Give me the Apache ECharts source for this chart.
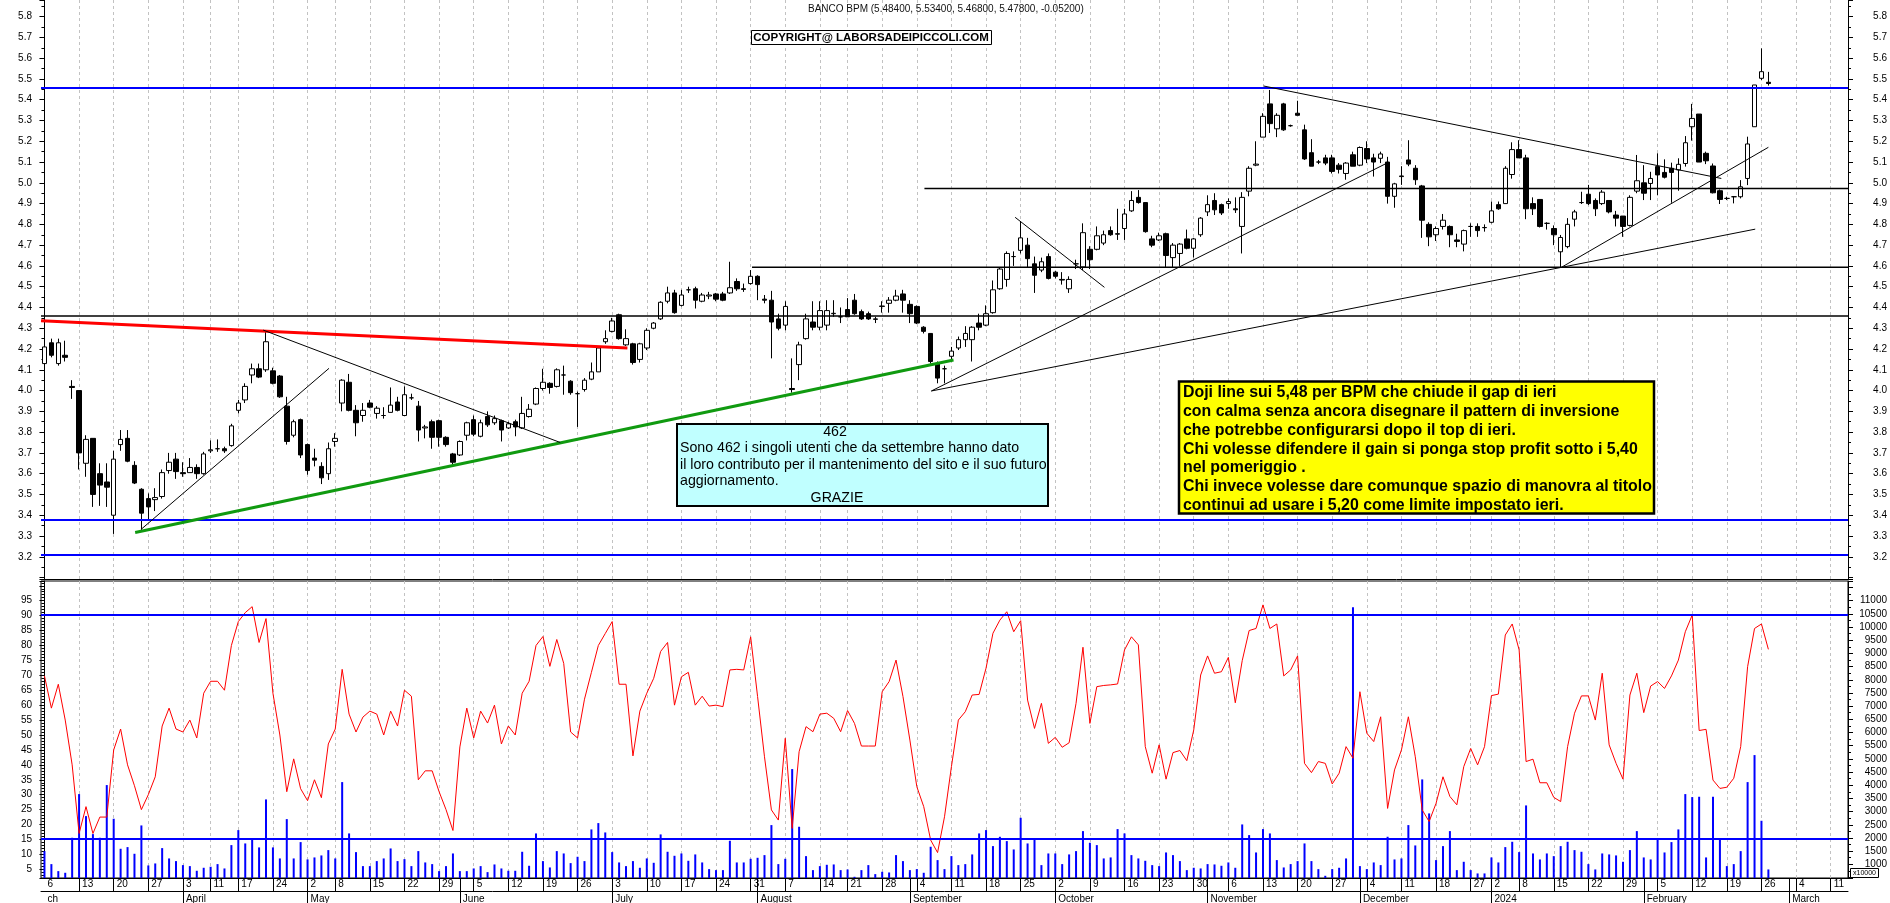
<!DOCTYPE html>
<html><head><meta charset="utf-8">
<script src="https://cdn.jsdelivr.net/npm/echarts@6/dist/echarts.min.js"></script>
<style>html,body{margin:0;padding:0;background:#fff}#c{width:1890px;height:903px}</style>
</head><body><div id="c"></div>
<script>
const FONT = '"Liberation Sans", Arial, sans-serif';

// ---- calendar ----
const TRADE_START = '2023-03-06';
const HOLIDAYS = ['2023-04-07','2023-04-10','2023-05-01','2023-08-15','2023-12-25','2023-12-26','2024-01-01'];
const SLOT_COUNT = 261; // trading days shown incl. empty future days
const MONTH_NAMES = ['2024','February','March','April','May','June','July','August','September','October','November','December'];
const FIRST_MONTH_LABEL = 'ch';

// ---- price data (OHLC) ----
const OPEN = [
4.13,4.23,4.13,4.17,4.02,4.00,3.65,3.77,3.60,3.56,
3.40,3.74,3.77,3.64,3.525,3.48,3.475,3.49,3.615,3.67,
3.605,3.605,3.63,3.60,3.71,3.72,3.72,3.735,3.905,3.955,
4.075,4.105,4.10,4.095,4.07,3.925,3.785,3.86,3.74,3.675,
3.635,3.60,3.755,3.94,4.04,3.905,3.88,3.94,3.89,3.88,
3.895,3.945,3.88,3.965,3.925,3.82,3.85,3.855,3.775,3.695,
3.69,3.785,3.86,3.78,3.875,3.845,3.855,3.82,3.85,3.82,
3.875,3.935,4.01,4.035,4.02,4.075,4.045,3.985,4.005,4.055,
4.09,4.235,4.285,4.365,4.22,4.225,4.15,4.205,4.30,4.345,
4.43,4.47,4.41,4.485,4.49,4.43,4.455,4.465,4.465,4.47,
4.525,4.49,4.515,4.55,4.44,4.435,4.345,4.315,4.01,4.125,
4.25,4.33,4.305,4.315,4.37,4.355,4.39,4.435,4.38,4.37,
4.345,4.405,4.42,4.435,4.465,4.415,4.405,4.305,4.275,4.13,
4.105,4.165,4.205,4.245,4.245,4.325,4.315,4.375,4.49,4.535,
4.645,4.675,4.70,4.61,4.58,4.645,4.57,4.535,4.49,4.61,
4.595,4.68,4.68,4.71,4.77,4.755,4.78,4.865,4.93,4.905,
4.73,4.725,4.755,4.64,4.66,4.73,4.685,4.75,4.86,4.915,
4.895,4.90,4.875,4.79,4.96,5.085,5.22,5.38,5.26,5.38,
5.275,5.335,5.255,5.145,5.10,5.12,5.12,5.085,5.045,5.135,
5.085,5.165,5.12,5.118,5.10,4.935,5.03,5.11,5.07,4.985,
4.80,4.75,4.79,4.79,4.725,4.705,4.79,4.79,4.785,4.81,
4.895,4.90,5.04,5.16,5.12,4.90,4.92,4.805,4.78,4.668,
4.693,4.825,4.905,4.945,4.915,4.90,4.915,4.845,4.84,4.795,
4.96,5.00,4.997,5.078,5.05,5.07,5.062,5.093,5.27,5.331,
5.142,5.081,4.962,4.925,4.933,4.933,5.021,5.27,5.503,5.484];
const CLOSE = [
4.21,4.17,4.23,4.16,4.015,3.70,3.765,3.50,3.545,3.535,
3.67,3.765,3.66,3.555,3.41,3.44,3.485,3.605,3.655,3.61,
3.60,3.63,3.60,3.695,3.715,3.72,3.71,3.83,3.94,4.02,
4.105,4.065,4.235,4.035,3.97,3.755,3.85,3.69,3.615,3.665,
3.58,3.72,3.77,4.05,3.905,3.845,3.905,3.92,3.915,3.88,
3.93,3.905,3.98,3.965,3.81,3.825,3.775,3.775,3.74,3.655,
3.755,3.845,3.79,3.845,3.835,3.865,3.81,3.84,3.825,3.89,
3.91,4.01,4.04,4.015,4.10,4.075,3.99,3.985,4.05,4.09,
4.205,4.25,4.335,4.25,4.25,4.135,4.225,4.29,4.325,4.425,
4.47,4.375,4.46,4.485,4.435,4.46,4.46,4.44,4.435,4.495,
4.49,4.487,4.55,4.51,4.435,4.33,4.30,4.405,4.005,4.22,
4.345,4.305,4.385,4.385,4.372,4.355,4.355,4.37,4.345,4.345,
4.343,4.407,4.435,4.455,4.435,4.37,4.325,4.285,4.14,4.06,
4.105,4.19,4.245,4.275,4.305,4.305,4.37,4.485,4.585,4.66,
4.645,4.735,4.635,4.555,4.62,4.54,4.55,4.532,4.535,4.61,
4.76,4.63,4.745,4.75,4.75,4.753,4.85,4.915,4.905,4.765,
4.70,4.745,4.65,4.70,4.705,4.685,4.73,4.83,4.895,4.87,
4.855,4.91,4.87,4.93,5.07,5.09,5.32,5.285,5.325,5.255,
5.275,5.325,5.115,5.08,5.10,5.095,5.055,5.065,5.095,5.08,
5.17,5.115,5.10,5.139,4.935,4.995,5.033,5.09,5.015,4.82,
4.74,4.78,4.82,4.75,4.718,4.77,4.79,4.77,4.784,4.865,
4.875,5.07,5.16,5.12,4.875,4.875,4.79,4.805,4.75,4.737,
4.80,4.86,4.905,4.90,4.875,4.955,4.86,4.83,4.79,4.93,
5.01,4.95,5.021,5.038,5.027,5.05,5.089,5.193,5.31,5.10,
5.106,4.952,4.92,4.925,4.933,4.981,5.187,5.471,5.535,5.478];
const LOW = [
4.12,4.16,4.12,4.14,3.96,3.62,3.585,3.44,3.445,3.44,
3.31,3.71,3.655,3.55,3.33,3.375,3.42,3.48,3.60,3.575,
3.585,3.605,3.575,3.595,3.70,3.705,3.70,3.73,3.89,3.94,
4.035,4.06,4.09,4.03,3.965,3.74,3.775,3.675,3.595,3.635,
3.55,3.57,3.73,3.90,3.90,3.78,3.85,3.915,3.865,3.865,
3.895,3.90,3.88,3.955,3.755,3.77,3.72,3.73,3.73,3.645,
3.685,3.76,3.78,3.775,3.825,3.835,3.755,3.815,3.78,3.815,
3.87,3.93,4.00,3.985,4.015,3.98,3.98,3.825,3.995,4.05,
4.09,4.225,4.28,4.245,4.215,4.125,4.135,4.195,4.295,4.34,
4.42,4.37,4.405,4.47,4.395,4.425,4.44,4.43,4.43,4.465,
4.48,4.475,4.51,4.435,4.42,4.155,4.29,4.29,3.99,4.05,
4.245,4.29,4.29,4.29,4.355,4.325,4.355,4.365,4.34,4.34,
4.325,4.375,4.375,4.43,4.375,4.325,4.32,4.275,4.13,4.035,
4.035,4.14,4.195,4.21,4.14,4.29,4.31,4.37,4.485,4.50,
4.60,4.66,4.59,4.47,4.57,4.535,4.54,4.51,4.47,4.585,
4.58,4.585,4.675,4.70,4.745,4.725,4.725,4.86,4.90,4.76,
4.69,4.72,4.595,4.595,4.60,4.68,4.64,4.74,4.84,4.845,
4.845,4.875,4.855,4.66,4.935,5.08,5.22,5.24,5.22,5.25,
5.27,5.325,5.11,5.08,5.09,5.085,5.045,5.045,5.015,5.08,
5.08,5.095,5.03,5.095,4.90,4.88,4.99,5.08,4.99,4.735,
4.695,4.72,4.775,4.69,4.69,4.67,4.74,4.74,4.765,4.805,
4.87,4.90,5.02,5.12,4.825,4.845,4.785,4.775,4.70,4.593,
4.685,4.79,4.898,4.893,4.84,4.893,4.853,4.79,4.74,4.79,
4.95,4.917,4.917,4.94,5.021,4.904,4.962,5.078,5.203,5.10,
5.09,4.949,4.898,4.917,4.901,4.925,4.989,5.27,5.495,5.468];
const HIGH = [
4.22,4.25,4.25,4.24,4.05,4.00,3.785,3.77,3.65,3.65,
3.71,3.81,3.81,3.66,3.53,3.505,3.53,3.62,3.70,3.70,
3.655,3.675,3.645,3.705,3.76,3.765,3.73,3.84,3.955,4.035,
4.13,4.13,4.29,4.11,4.075,3.97,3.86,3.865,3.745,3.72,
3.655,3.75,3.795,4.055,4.08,3.93,3.94,3.955,3.925,3.92,
4.015,3.97,4.02,3.985,3.95,3.835,3.86,3.86,3.78,3.70,
3.76,3.85,3.88,3.86,3.90,3.88,3.86,3.85,3.86,3.97,
3.935,4.015,4.105,4.04,4.107,4.12,4.05,3.995,4.06,4.135,
4.21,4.29,4.35,4.37,4.295,4.23,4.23,4.30,4.33,4.43,
4.50,4.485,4.485,4.50,4.50,4.47,4.475,4.47,4.475,4.62,
4.54,4.515,4.58,4.555,4.46,4.48,4.37,4.43,4.155,4.235,
4.37,4.43,4.43,4.435,4.435,4.40,4.445,4.465,4.39,4.38,
4.355,4.43,4.45,4.485,4.485,4.435,4.41,4.31,4.275,4.14,
4.12,4.21,4.26,4.31,4.31,4.37,4.41,4.53,4.59,4.67,
4.67,4.815,4.735,4.645,4.64,4.66,4.575,4.57,4.55,4.63,
4.805,4.695,4.79,4.77,4.79,4.875,4.875,4.96,4.965,4.905,
4.745,4.76,4.76,4.71,4.71,4.775,4.735,4.835,4.94,4.95,
4.90,4.925,4.93,4.955,5.08,5.20,5.335,5.447,5.335,5.385,
5.28,5.395,5.28,5.21,5.11,5.135,5.135,5.095,5.10,5.15,
5.175,5.20,5.14,5.15,5.125,5.00,5.08,5.205,5.085,4.99,
4.81,4.79,4.85,4.795,4.755,4.775,4.805,4.805,4.80,4.91,
4.91,5.08,5.195,5.205,5.135,4.93,4.92,4.81,4.795,4.749,
4.83,4.87,4.957,4.99,4.925,4.965,4.915,4.865,4.84,4.94,
5.134,5.085,5.053,5.142,5.113,5.097,5.118,5.225,5.38,5.331,
5.15,5.093,4.968,4.933,4.936,5.013,5.222,5.471,5.647,5.534];

// ---- oscillator (left lower axis) ----
const RSI = [
69.8,59,67,55,40,17,26,17,22.5,22.5,
45,52,40,33,25,30,36,53,59,52,
51,55,49,64,68,68,65,80,88,91,
93,81,89,64,50,31,42,32,28,35,
29,47,52,72,57,51,56,58,57,50,
58,53,65,63,35,38,38,31,25,18,
46,59,49,58,54,60,47,53,50,64,
68,80,83,73,82,74,51,49,62,71,
80,84,88,67,67,43,58,64,69,78,
81,60,69.5,71,60,63,59.7,60,59.5,71.8,
72,71.8,82.9,62.9,42.7,24.9,21.5,48.9,18.7,44.4,
52.8,51.1,57,57.3,55.6,51.1,58.2,53.9,46.3,46.3,
46.3,64.5,67.9,75.1,62.9,48.3,32.7,26,14.8,10.6,
22.6,39.4,55,57.8,63.4,63.6,72.4,84.1,88.5,91.3,
84.6,88.3,61.7,52.2,60.6,47.2,49.2,45.9,47.4,60.6,
79.4,53.9,66.2,66.6,66.8,67.1,78.5,82.9,80.2,46.1,
37.2,46.7,35.2,44.1,44.8,41.4,51.7,70.1,76.5,70.7,
71.2,76,60.8,74.9,85,85.7,93.6,85.7,87.2,69.8,
71.8,76.5,40.5,37.4,41.1,40.5,33.6,37.2,46.1,42.2,
64.5,50.6,47.8,56.1,25.4,38.3,45,56.1,42.7,24.9,
21,27.1,36,29.4,26.6,39.4,45.5,40,46.1,63.2,
63.7,83.5,87.2,78.5,41.1,41.9,34,34,29.1,27.7,
46.1,57.3,63.1,63.1,55,70.7,46.7,40.5,35.2,63.4,
70.7,57.5,66.4,67.9,65.6,69.8,75.1,84.6,90.2,51.5,
51.9,34.9,32.1,32.5,35.5,46.1,72.9,85.7,87.2,78.7];

// ---- volume (right lower axis, x10000) ----
const VOLUME = [
1500,1007,741,678,2006,3663,2828,2145,2006,4005,
2727,1589,1652,1399,2474,956,1032,1614,1222,1121,
969,931,754,868,906,1007,842,1728,2297,1791,
1943,1640,3461,1640,1222,2714,1222,1842,1184,1260,
1336,1538,1222,4118,2171,1462,931,931,1121,1222,
1601,1121,1196,931,1500,1070,1007,741,931,1411,
741,741,842,931,703,994,842,754,754,1475,
944,2171,1121,880,1500,1411,1045,1285,1121,2323,
2563,2208,1462,1070,931,1121,868,1222,1057,2133,
1475,1323,1411,1133,1374,1070,817,779,779,1892,
1070,1070,1209,1247,1348,2487,1007,1209,4612,2424,
1310,779,931,981,994,779,804,526,779,969,
627,716,690,1348,1121,779,817,678,1665,1159,
817,1310,969,1007,1374,2171,2297,1690,2044,1880,
1563,2765,1791,1981,969,1411,1411,1007,1374,1500,
2259,1817,1728,1222,1260,2335,2171,1348,1222,1133,
969,931,1449,1348,1121,779,868,842,1007,994,
944,1070,868,2512,2107,1449,2335,2171,1159,880,
1007,1121,1791,1121,817,564,817,868,1222,10747,
931,817,1070,969,2044,1184,1222,2487,1715,4220,
2930,1159,1690,2259,779,1095,779,653,653,1260,
1070,1652,1854,1462,3233,1411,1184,1411,1310,1690,
1854,1538,1475,1007,805,1411,1374,1336,1095,1538,
2259,1260,1184,1981,1449,1842,2323,3663,3549,3562,
1260,3562,1981,931,1007,1500,4118,5143,2651,805];

// ---- drawn levels and trendlines: [slot index, price] ----
const LEVELS_BLUE = [5.455, 3.376, 3.206];
const LEVELS_BLACK = [4.359];
const LEVELS_BLACK_FROM = [[127.1, 4.973], [102.2, 4.593]];
const TREND_RED = [[-0.5, 4.336], [84.2, 4.205]];
const TREND_GREEN = [[13.1, 3.317], [131.3, 4.147]];
const TREND_THIN = [
  [[13.96, 3.332], [41.1, 4.107]],
  [[31.6, 4.291], [74.5, 3.750]],
  [[140.2, 4.834], [153.1, 4.497]],
  [[128.1, 3.998], [194.1, 5.098]],
  [[128.1, 3.998], [219.1, 4.593]],
  [[219.1, 4.593], [247.1, 4.777]],
  [[219.1, 4.593], [249.0, 5.171]],
  [[176.1, 5.466], [242.2, 5.021]]
];
const OSC_LEVELS = [90.4, 15.4];

// ---- texts ----
const TITLE_TEXT = 'BANCO BPM (5.48400, 5.53400, 5.46800, 5.47800, -0.05200)';
const COPYRIGHT_TEXT = 'COPYRIGHT@ LABORSADEIPICCOLI.COM';
const NOTE_CYAN = ['462', 'Sono 462 i singoli utenti che da settembre hanno dato', 'il loro contributo per il mantenimento del sito e il suo futuro', 'aggiornamento.', 'GRAZIE'];
const NOTE_YELLOW = ['Doji line sui 5,48 per BPM che chiude il gap di ieri', 'con calma senza ancora disegnare il pattern di inversione', 'che potrebbe configurarsi dopo il top di ieri.', 'Chi volesse difendere il gain si ponga stop profit sotto i 5,40', 'nel pomeriggio .', 'Chi invece volesse dare comunque spazio di manovra al titolo', 'continui ad usare i 5,20 come limite impostato ieri.'];

// ---- build calendar ----
function buildDays() {
  const out = [];
  const d = new Date(TRADE_START + 'T00:00:00Z');
  while (out.length < SLOT_COUNT) {
    const wd = d.getUTCDay();
    const s = d.toISOString().slice(0, 10);
    if (wd !== 0 && wd !== 6 && HOLIDAYS.indexOf(s) < 0) out.push(s);
    d.setUTCDate(d.getUTCDate() + 1);
  }
  return out;
}
const DAYS = buildDays();
const weekStart = new Set(), monthStart = new Set();
DAYS.forEach((s, i) => {
  if (i === 0) { weekStart.add(0); return; }
  const a = new Date(DAYS[i - 1] + 'T00:00:00Z'), b = new Date(s + 'T00:00:00Z');
  if (b.getUTCDay() <= a.getUTCDay() || (b - a) >= 7 * 864e5) weekStart.add(i);
  if (s.slice(5, 7) !== DAYS[i - 1].slice(5, 7)) monthStart.add(i);
});
const dayTicks = new Set([...weekStart, ...monthStart]);
const monthLabelIdx = new Set([0, ...monthStart]);
const weekLines = [...weekStart];

const candles = OPEN.map((o, i) => [o, CLOSE[i], LOW[i], HIGH[i]]);

const P_MIN = 3.093, P_MAX = 5.88;
const R_MIN = 2.085, R_MAX = 101.6;
const V_MIN = 480, V_MAX = 11747;

function yAxisCommon(extra) {
  return Object.assign({
    type: 'value', scale: true,
    axisLine: { show: true, lineStyle: { color: '#000', width: 1 } },
    axisTick: { show: true, length: 5, lineStyle: { color: '#000' } },
    minorTick: { show: true, splitNumber: 2, length: 3, lineStyle: { color: '#000' } },
    splitLine: { show: false },
    axisLabel: { fontSize: 10, fontFamily: FONT, color: '#000', showMinLabel: false, showMaxLabel: false }
  }, extra);
}

const series = [];
// vertical weekly dashed lines (behind everything)
[[3, 0], [4, 2]].forEach(([xi, yi]) => {
  series.push({
    type: 'line', xAxisIndex: xi, yAxisIndex: yi, data: [], silent: true, z: 0,
    markLine: { silent: true, z: 0, symbol: ['none', 'none'], animation: false, label: { show: false },
      lineStyle: { color: '#c2c2c2', type: [3, 3], width: 1 },
      data: weekLines.map(i => ({ xAxis: i })) }
  });
});
series.push({
  name: 'BANCO BPM', type: 'candlestick', xAxisIndex: 0, yAxisIndex: 0, data: candles, barWidth: 5, z: 3,
  itemStyle: { color: '#ffffff', color0: '#000000', borderColor: '#000000', borderColor0: '#000000', borderColorDoji: '#000000', borderWidth: 1 }
});
series.push({
  type: 'bar', xAxisIndex: 1, yAxisIndex: 3, data: VOLUME, barWidth: 2, z: 2,
  itemStyle: { color: '#0000ff' }
});
series.push({
  type: 'line', xAxisIndex: 1, yAxisIndex: 2, data: RSI, symbol: 'none', z: 4,
  lineStyle: { color: '#ff0000', width: 1 }
});
series.push({
  type: 'line', xAxisIndex: 4, yAxisIndex: 2, data: [], z: 5, silent: true,
  markLine: { silent: true, z: 5, symbol: ['none', 'none'], animation: false, label: { show: false },
    lineStyle: { color: '#0000ff', type: 'solid', width: 2 }, data: OSC_LEVELS.map(v => ({ yAxis: v })) }
});
series.push({
  type: 'line', xAxisIndex: 3, yAxisIndex: 0, data: [], z: 5, silent: true,
  markLine: { silent: true, z: 5, symbol: ['none', 'none'], animation: false, label: { show: false },
    data: LEVELS_BLUE.map(v => ({ yAxis: v, lineStyle: { color: '#0000ff', type: 'solid', width: 2 } }))
      .concat(LEVELS_BLACK.map(v => ({ yAxis: v, lineStyle: { color: '#000', type: 'solid', width: 1.5 } }))) }
});
function seg(data, color, width) {
  series.push({ type: 'line', xAxisIndex: 3, yAxisIndex: 0, data: data, symbol: 'none', silent: true, z: 6,
    lineStyle: { color: color, width: width } });
}
LEVELS_BLACK_FROM.forEach(([x, p]) => seg([[x, p], [SLOT_COUNT - 0.5, p]], '#000', 1.5));
seg(TREND_RED, '#ff0000', 3);
seg(TREND_GREEN, '#109a10', 3);
TREND_THIN.forEach(t => seg(t, '#000', 1));

// graphics
const graphic = [];
graphic.push({ type: 'text', z: 100, style: { x: 808, y: 9, text: TITLE_TEXT, fontSize: 10, fontFamily: FONT, fill: '#111', verticalAlign: 'middle' } });
graphic.push({ type: 'rect', z: 100, shape: { x: 751.5, y: 30.5, width: 240, height: 14 }, style: { fill: '#fff', stroke: '#000', lineWidth: 1 } });
graphic.push({ type: 'text', z: 101, style: { x: 871, y: 38, text: COPYRIGHT_TEXT, fontSize: 11.5, fontWeight: 'bold', fontFamily: FONT, fill: '#000', align: 'center', verticalAlign: 'middle' } });
graphic.push({ type: 'rect', z: 100, shape: { x: 677, y: 424, width: 371, height: 82 }, style: { fill: '#c0ffff', stroke: '#000', lineWidth: 2 } });
const cyanY = [432, 448.5, 465, 481.5, 498];
NOTE_CYAN.forEach((t, k) => {
  const centered = (k === 0 || k === NOTE_CYAN.length - 1);
  graphic.push({ type: 'text', z: 101, style: { x: centered ? (k === 0 ? 835 : 837) : 680, y: cyanY[k], text: t, fontSize: 14.2, fontFamily: FONT, fill: '#000', align: centered ? 'center' : 'left', verticalAlign: 'middle' } });
});
graphic.push({ type: 'rect', z: 100, shape: { x: 1179, y: 381.5, width: 475, height: 132 }, style: { fill: '#ffff00', stroke: '#000', lineWidth: 2.5 } });
NOTE_YELLOW.forEach((t, k) => {
  graphic.push({ type: 'text', z: 101, style: { x: 1183, y: 392.5 + k * 18.9, text: t, fontSize: 15.9, fontWeight: 'bold', fontFamily: FONT, fill: '#000', align: 'left', verticalAlign: 'middle' } });
});
graphic.push({ type: 'rect', z: 100, shape: { x: 1850.5, y: 868.5, width: 28, height: 9 }, style: { fill: '#fff', stroke: '#000', lineWidth: 1 } });
graphic.push({ type: 'text', z: 101, style: { x: 1864.5, y: 873, text: 'x10000', fontSize: 7, fontFamily: FONT, fill: '#000', align: 'center', verticalAlign: 'middle' } });

const option = {
  animation: false,
  backgroundColor: '#ffffff',
  textStyle: { fontFamily: FONT },
  grid: [
    { left: 41, right: 42, top: 0, height: 579, outerBoundsMode: 'none', containLabel: false },
    { left: 41, right: 42, top: 581, height: 297, outerBoundsMode: 'none', containLabel: false, show: true, borderColor: '#000', borderWidth: 1, backgroundColor: 'rgba(0,0,0,0)' }
  ],
  xAxis: [
    { type: 'category', gridIndex: 0, data: DAYS, boundaryGap: true,
      axisLine: { show: true, lineStyle: { color: '#000' } }, axisTick: { show: false }, axisLabel: { show: false }, splitLine: { show: false } },
    { type: 'category', gridIndex: 1, data: DAYS, boundaryGap: true, position: 'bottom',
      axisLine: { show: true, lineStyle: { color: '#000' } },
      axisTick: { show: true, alignWithLabel: true, length: 13, interval: (i) => dayTicks.has(i) && i > 0, lineStyle: { color: '#000' } },
      axisLabel: { show: true, interval: (i) => weekStart.has(i), formatter: (v) => String(parseInt(v.slice(8), 10)),
        align: 'left', padding: [0, 0, 0, 3], margin: 1, fontSize: 10, fontFamily: FONT, color: '#000', hideOverlap: false },
      splitLine: { show: false } },
    { type: 'category', gridIndex: 1, data: DAYS, boundaryGap: true, position: 'bottom', offset: 13,
      axisLine: { show: true, lineStyle: { color: '#000' } },
      axisTick: { show: true, alignWithLabel: true, length: 12, interval: (i) => monthStart.has(i), lineStyle: { color: '#000' } },
      axisLabel: { show: true, interval: (i) => monthLabelIdx.has(i),
        formatter: (v, i) => i === 0 ? FIRST_MONTH_LABEL : MONTH_NAMES[parseInt(v.slice(5, 7), 10) - 1],
        align: 'left', padding: [0, 0, 0, 3], margin: 3, fontSize: 10, fontFamily: FONT, color: '#000', hideOverlap: false },
      splitLine: { show: false } },
    { type: 'value', gridIndex: 0, min: -0.5, max: SLOT_COUNT - 0.5, show: false },
    { type: 'value', gridIndex: 1, min: -0.5, max: SLOT_COUNT - 0.5, show: false }
  ],
  yAxis: [
    yAxisCommon({ gridIndex: 0, position: 'left', min: P_MIN, max: P_MAX, splitNumber: 28, minInterval: 0.1, maxInterval: 0.1,
      axisLabel: { fontSize: 10, fontFamily: FONT, color: '#000', showMinLabel: false, showMaxLabel: false, margin: 9,
        formatter: v => (v < 3.15 || v > 5.85) ? '' : v.toFixed(1) } }),
    yAxisCommon({ gridIndex: 0, position: 'right', min: P_MIN, max: P_MAX, splitNumber: 28, minInterval: 0.1, maxInterval: 0.1,
      axisLabel: { fontSize: 10, fontFamily: FONT, color: '#000', showMinLabel: false, showMaxLabel: false, margin: 39, align: 'right',
        formatter: v => (v < 3.15 || v > 5.85) ? '' : v.toFixed(1) } }),
    yAxisCommon({ gridIndex: 1, position: 'left', min: R_MIN, max: R_MAX, splitNumber: 20, minInterval: 5, maxInterval: 5,
      minorTick: { show: true, splitNumber: 5, length: 3, lineStyle: { color: '#000' } },
      axisLabel: { fontSize: 10, fontFamily: FONT, color: '#000', showMinLabel: false, showMaxLabel: false, margin: 9,
        formatter: v => (v < 4 || v > 96) ? '' : String(Math.round(v)) } }),
    yAxisCommon({ gridIndex: 1, position: 'right', min: V_MIN, max: V_MAX, splitNumber: 22, minInterval: 500, maxInterval: 500,
      axisLabel: { fontSize: 10, fontFamily: FONT, color: '#000', showMinLabel: false, showMaxLabel: false, margin: 39, align: 'right',
        formatter: v => (v < 999 || v > 11001) ? '' : String(Math.round(v)) } })
  ],
  series: series,
  graphic: graphic
};

const chart = echarts.init(document.getElementById('c'), null, { renderer: 'canvas', width: 1890, height: 903 });
chart.setOption(option);
</script></body></html>
